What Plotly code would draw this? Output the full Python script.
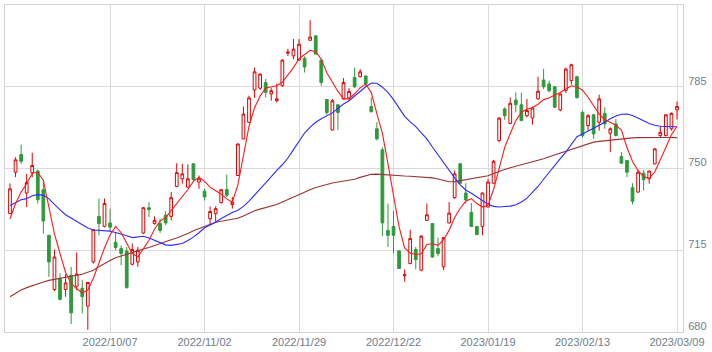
import pandas as pd
import plotly.graph_objects as go

# Trading calendar (Tokyo market holidays excluded)
holidays = ["2022-09-19", "2022-09-23", "2022-10-10", "2022-11-03", "2022-11-23",
            "2023-01-02", "2023-01-03", "2023-01-09", "2023-02-23"]
dates = [d.strftime("%Y/%m/%d") for d in
         pd.bdate_range("2022-09-09", "2023-03-09", freq="C", holidays=holidays)]

tick_dates = ["2022/10/07", "2022/11/02", "2022/11/29", "2022/12/22",
              "2023/01/19", "2023/02/13", "2023/03/09"]
y_ticks = [680, 715, 750, 785]

open_ = [730.7, 748.4, 756.0, 739.5, 748.2, 748.9, 740.9, 721.4, 698.2, 702.9,
         698.2, 704.3, 699.6, 698.7, 691.1, 710.0, 729.5, 725.2, 726.7, 718.4,
         715.7, 714.7, 709.0, 710.0, 722.4, 733.2, 726.4, 726.4, 730.0, 729.5,
         742.3, 745.6, 742.0, 752.0, 744.2, 740.3, 728.5, 730.7, 735.4, 741.0,
         734.6, 747.0, 762.7, 769.8, 783.6, 784.4, 786.8, 781.9, 779.0, 785.4,
         799.4, 798.2, 796.4, 797.2, 804.9, 806.8, 796.4, 779.5, 766.5, 777.3,
         779.8, 780.2, 789.0, 789.3, 789.6, 776.5, 767.0, 758.0, 723.5, 725.2,
         714.7, 704.1, 709.3, 715.3, 706.5, 727.8, 726.4, 715.7, 707.9, 726.7,
         737.5, 752.0, 739.5, 731.2, 725.2, 725.2, 733.5, 743.7, 762.0, 775.5,
         769.3, 779.3, 777.3, 772.6, 771.6, 779.8, 787.9, 786.2, 785.0, 775.1,
         783.3, 787.6, 789.3, 774.0, 768.4, 773.0, 769.8, 773.6, 765.1, 769.1,
         755.1, 753.4, 741.8, 739.9, 748.0, 745.6, 752.0, 764.1, 764.1, 767.0,
         775.1]
high = [743.6, 754.8, 760.2, 747.7, 756.7, 749.5, 744.9, 721.6, 715.3, 705.1,
        704.8, 707.9, 714.0, 702.2, 701.4, 724.0, 737.1, 737.1, 732.8, 722.4,
        717.1, 716.4, 717.9, 716.4, 733.5, 735.6, 729.5, 728.5, 731.8, 739.9,
        752.3, 752.0, 751.7, 752.3, 747.0, 741.3, 733.8, 733.8, 741.3, 747.4,
        737.8, 760.7, 776.5, 781.2, 793.2, 790.7, 788.3, 784.4, 786.4, 796.7,
        801.3, 805.4, 805.4, 798.0, 813.5, 807.0, 796.6, 779.7, 779.8, 777.5,
        788.7, 784.4, 793.2, 792.6, 789.8, 780.4, 769.8, 759.1, 735.0, 731.8,
        715.0, 706.8, 723.8, 716.4, 721.5, 735.0, 726.6, 720.4, 720.7, 735.6,
        749.1, 752.3, 743.7, 735.2, 725.4, 739.7, 745.6, 753.7, 772.0, 776.2,
        780.4, 782.6, 782.4, 779.8, 776.5, 789.3, 792.6, 787.6, 785.2, 782.1,
        793.2, 794.9, 789.7, 774.8, 773.3, 773.2, 781.6, 776.2, 767.6, 771.2,
        757.0, 753.6, 743.7, 749.4, 749.4, 749.0, 758.8, 767.9, 773.3, 774.0,
        778.7]
low = [730.5, 746.3, 752.0, 733.5, 746.3, 735.0, 722.1, 703.6, 697.5, 693.5,
       695.1, 683.4, 697.9, 688.0, 680.9, 709.3, 721.4, 724.8, 723.5, 715.0,
       708.6, 698.5, 708.5, 707.9, 722.0, 729.2, 726.0, 722.4, 725.7, 727.8,
       742.0, 743.5, 741.8, 744.7, 741.3, 736.3, 726.1, 726.7, 735.0, 737.8,
       732.8, 746.8, 762.5, 769.5, 780.2, 783.6, 780.4, 779.0, 778.3, 785.0,
       798.2, 796.8, 796.2, 791.1, 804.7, 798.8, 785.4, 773.0, 766.3, 766.5,
       779.5, 779.0, 784.4, 789.0, 785.4, 774.0, 762.0, 721.0, 716.4, 713.6,
       707.0, 701.5, 709.0, 706.8, 706.0, 727.5, 711.8, 712.4, 706.5, 726.5,
       737.0, 743.5, 735.0, 725.0, 721.5, 721.4, 733.3, 743.5, 761.2, 770.8,
       769.0, 774.0, 770.3, 771.9, 768.8, 779.5, 784.0, 782.6, 776.0, 774.5,
       782.4, 785.9, 779.9, 763.2, 766.2, 762.7, 766.2, 767.0, 757.0, 763.8,
       752.0, 746.3, 734.6, 739.7, 740.6, 743.5, 751.8, 763.4, 763.8, 766.2,
       771.0]
close = [741.3, 753.7, 753.1, 744.0, 751.3, 736.6, 727.5, 710.0, 712.1, 694.0,
         701.0, 688.2, 704.8, 695.1, 701.2, 723.8, 726.4, 735.0, 724.9, 716.2,
         713.6, 699.1, 715.3, 715.0, 733.2, 732.4, 727.8, 723.5, 726.7, 737.5,
         748.2, 747.7, 745.6, 745.3, 745.6, 737.8, 731.6, 732.8, 740.9, 738.5,
         735.6, 760.5, 773.3, 780.2, 791.4, 790.4, 782.6, 783.3, 779.8, 796.4,
         799.8, 801.1, 803.2, 793.5, 806.3, 799.0, 786.8, 774.0, 779.0, 774.0,
         786.8, 783.0, 785.0, 791.4, 786.2, 774.3, 762.7, 726.7, 721.4, 721.4,
         707.2, 704.5, 720.0, 711.0, 721.0, 730.2, 712.1, 713.6, 720.4, 730.9,
         747.7, 743.7, 736.6, 725.2, 721.7, 739.5, 744.2, 753.1, 771.6, 772.6,
         777.9, 777.3, 770.5, 774.8, 775.9, 783.1, 785.0, 783.3, 776.2, 781.9,
         792.6, 794.4, 780.4, 764.1, 772.6, 764.8, 779.8, 769.1, 767.0, 764.1,
         752.3, 748.4, 736.0, 748.4, 745.2, 748.9, 758.4, 765.5, 773.0, 773.6,
         776.5]

# Moving averages (short / medium / long)
ma_short = [728.5, 735.0, 739.9, 743.5, 748.0, 748.4, 744.9, 733.0, 722.0, 713.6,
            705.5, 700.8, 698.5, 696.8, 697.9, 703.0, 710.0, 716.0, 721.5, 725.2,
            722.5, 718.0, 713.6, 712.1, 715.5, 719.3, 724.0, 727.5, 729.0, 732.0,
            735.0, 737.5, 741.0, 744.5, 746.3, 744.5, 742.0, 740.5, 739.0, 737.0,
            735.6, 743.0, 756.0, 768.0, 776.0, 781.0, 784.5, 785.0, 785.4, 787.0,
            790.0, 793.2, 797.0, 799.0, 800.6, 800.0, 796.8, 791.0, 787.0, 783.0,
            779.8, 779.8, 782.0, 784.5, 786.2, 782.5, 773.5, 765.0, 752.0, 738.0,
            725.0, 716.0, 713.8, 713.2, 713.5, 717.5, 717.8, 717.1, 719.5, 723.5,
            729.0, 733.0, 736.0, 737.1, 735.0, 733.5, 734.2, 741.0, 750.0, 759.0,
            765.0, 770.5, 774.0, 775.5, 776.0, 777.5, 779.5, 780.2, 781.5, 782.5,
            784.0, 785.4, 785.0, 783.5, 780.5, 777.0, 773.3, 771.0, 769.8, 768.5,
            766.5, 759.0, 753.0, 749.1, 746.5, 745.8, 748.5, 753.5, 759.0, 764.5,
            768.0]
ma_mid = [734.2, 735.5, 736.6, 737.1, 738.3, 738.8, 738.5, 737.0, 734.5, 732.3,
          730.2, 728.8, 727.5, 726.2, 724.5, 723.7, 723.5, 723.4, 723.2, 722.6,
          722.0, 721.2, 720.4, 720.7, 721.0, 720.2, 719.2, 718.3, 717.3, 717.1,
          717.5, 717.9, 719.2, 720.6, 722.5, 724.6, 725.8, 727.0, 728.6, 730.0,
          731.2, 732.1, 733.8, 736.0, 738.8, 741.3, 743.8, 746.7, 749.2, 751.6,
          754.5, 758.1, 761.8, 765.2, 767.7, 769.8, 771.3, 772.6, 773.8, 775.7,
          777.6, 779.0, 781.0, 783.3, 785.0, 786.6, 786.5, 784.8, 782.6, 779.5,
          776.0, 772.3, 770.0, 767.9, 765.3, 762.7, 759.2, 755.8, 752.5, 749.2,
          746.0, 743.0, 740.8, 739.4, 737.8, 736.3, 734.7, 733.8, 733.5, 733.7,
          733.9, 734.5, 735.7, 737.3, 739.6, 742.3, 745.4, 748.5, 751.5, 754.2,
          757.0, 760.4, 763.6, 764.8, 766.0, 767.3, 768.4, 769.8, 771.3, 772.5,
          773.2, 773.3, 772.7, 771.7, 770.4, 769.3, 768.5, 768.1, 767.9, 767.9,
          767.9]
ma_long = [695.1, 696.6, 698.0, 699.0, 699.9, 700.6, 701.4, 702.1, 702.6, 703.1,
           703.5, 703.9, 704.3, 704.7, 705.5, 706.4, 707.9, 709.4, 710.6, 711.8,
           712.6, 713.4, 714.2, 714.8, 715.5, 716.2, 717.1, 718.0, 718.8, 719.5,
           720.2, 721.1, 722.2, 723.3, 724.3, 725.2, 726.1, 727.0, 727.4, 727.8,
           728.2, 728.7, 729.7, 730.8, 731.9, 732.6, 733.3, 734.0, 734.6, 735.7,
           736.8, 737.9, 738.9, 739.9, 740.9, 741.9, 742.6, 743.3, 743.8, 744.2,
           744.5, 744.9, 745.4, 746.2, 746.9, 747.5, 747.6, 747.4, 747.1, 747.0,
           746.9, 746.8, 746.7, 746.6, 746.5, 746.3, 746.0, 745.5, 744.9, 744.3,
           744.4, 744.8, 745.2, 745.6, 745.9, 746.3, 746.9, 747.9, 748.9, 749.6,
           750.3, 750.9, 751.6, 752.1, 752.8, 753.5, 754.2, 755.0, 755.8, 756.6,
           757.5, 758.3, 759.2, 759.9, 760.6, 761.3, 761.6, 761.9, 762.2, 762.5,
           762.8, 763.0, 763.1, 763.2, 763.3, 763.4, 763.4, 763.3, 763.3, 763.2,
           763.2]

UP = "#e00000"
DOWN = "#2f9a3c"
TICK_FONT = dict(family="Liberation Sans, Arial, sans-serif", size=11, color="#6f7c8c")

fig = go.Figure()
fig.add_trace(go.Candlestick(
    x=dates, open=open_, high=high, low=low, close=close,
    increasing=dict(line=dict(color=UP, width=1), fillcolor="#ffffff"),
    decreasing=dict(line=dict(color=DOWN, width=1), fillcolor=DOWN),
    whiskerwidth=0, showlegend=False, hoverinfo="skip",
))
fig.add_trace(go.Scatter(x=dates, y=ma_long, mode="lines",
                         line=dict(color="#9b3434", width=1.1), showlegend=False))
fig.add_trace(go.Scatter(x=dates, y=ma_mid, mode="lines",
                         line=dict(color="#2b2bff", width=1.1), showlegend=False))
fig.add_trace(go.Scatter(x=dates, y=ma_short, mode="lines",
                         line=dict(color="#ff1a1a", width=1.1), showlegend=False))

fig.update_layout(
    width=712, height=352,
    margin=dict(l=4, r=29, t=4, b=19),
    paper_bgcolor="white", plot_bgcolor="white",
    showlegend=False,
    xaxis=dict(
        type="category", categoryorder="array", categoryarray=dates,
        range=[-0.9, len(dates) - 1 + 1.08],
        tickmode="array", tickvals=tick_dates, ticktext=tick_dates,
        tickfont=TICK_FONT, showgrid=True, gridcolor="#dadada", gridwidth=1,
        showline=True, linecolor="#d4d4d4", mirror=True, ticks="",
        rangeslider=dict(visible=False), zeroline=False, tickangle=0,
    ),
    yaxis=dict(
        side="right", range=[680, 820],
        tickmode="array", tickvals=y_ticks,
        tickfont=TICK_FONT, showgrid=True, gridcolor="#dadada", gridwidth=1,
        showline=True, linecolor="#d4d4d4", mirror=True,
        ticks="outside", ticklen=2, tickcolor="rgba(0,0,0,0)", zeroline=False,
        ticklabelshift=-6,
    ),
)

fig.write_html("out.html")
